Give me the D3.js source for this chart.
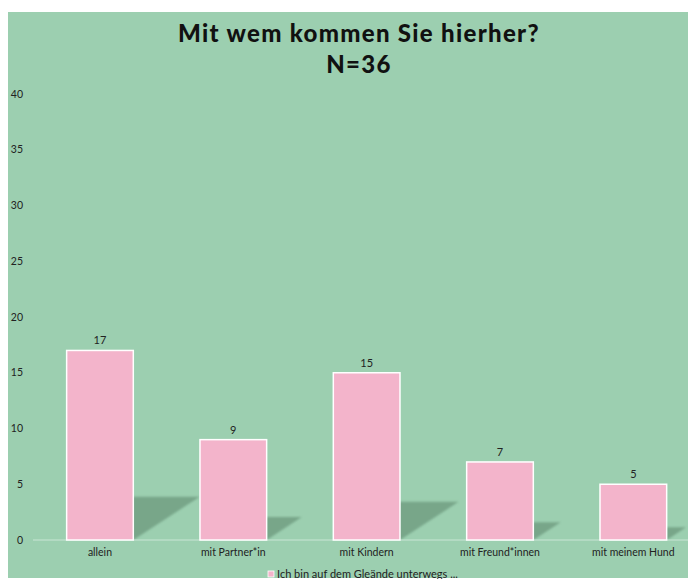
<!DOCTYPE html>
<html><head><meta charset="utf-8">
<script src="https://cdn.jsdelivr.net/npm/d3@7"></script>
<style>body{margin:0;background:#fff;} svg{display:block;}</style>
</head><body>
<svg id="c" width="688" height="579"></svg>
<script>
const categories = ["allein", "mit Partner*in", "mit Kindern", "mit Freund*innen", "mit meinem Hund"];
const values = [17, 9, 15, 7, 5];
const yTicks = [0, 5, 10, 15, 20, 25, 30, 35, 40];
const seriesName = "Ich bin auf dem Gleände unterwegs ...";
const title1 = "Mit wem kommen Sie hierher?";
const title2 = "N=36";

const svg = d3.select("#c");
const W = 688, H = 579;
const font = "Lato, 'Open Sans', sans-serif";

svg.append("rect").attr("x", 8).attr("y", 12).attr("width", W - 8).attr("height", 566).attr("fill", "#9ccfb0");

const x = d3.scaleBand().domain(categories).range([33.3, 700]).paddingInner(0.5).paddingOuter(0.25);
const y = d3.scaleLinear().domain([0, 40]).range([540, 94]);

const defs = svg.append("defs");
const f = defs.append("filter").attr("id", "blur").attr("x", "-20%").attr("y", "-20%").attr("width", "140%").attr("height", "140%");
f.append("feGaussianBlur").attr("stdDeviation", 1.2);
const clip = defs.append("clipPath").attr("id", "clipR");
clip.append("rect").attr("x", 8).attr("y", 12).attr("width", W - 8).attr("height", 528);

// y axis labels
svg.append("g").selectAll("text").data(yTicks).join("text")
  .attr("x", 23).attr("y", d => y(d)).attr("dy", "0.35em")
  .attr("text-anchor", "end").attr("font-family", font).attr("font-size", 10.5).attr("fill", "#222")
  .text(d => d);

// shadows
const k1 = 0.35, k2 = 0.228;
svg.append("g").attr("clip-path", "url(#clipR)").selectAll("path").data(values).join("path")
  .attr("d", (d, i) => {
    const x0 = x(categories[i]), x1 = x0 + x.bandwidth();
    const h = y(0) - y(d);
    const b = y(0);
    return `M${x0},${b}L${x1},${b}L${x1 + k1 * h},${b - k2 * h}L${x0 + k1 * h},${b - k2 * h}Z`;
  })
  .attr("fill", "#6f9c80").attr("opacity", 0.8).attr("filter", "url(#blur)");

// axis line
svg.append("line").attr("x1", 33).attr("x2", W).attr("y1", y(0)).attr("y2", y(0))
  .attr("stroke", "#c9e6d5").attr("stroke-width", 1);

// bars
svg.append("g").selectAll("rect").data(values).join("rect")
  .attr("x", (d, i) => x(categories[i]))
  .attr("y", d => y(d))
  .attr("width", x.bandwidth())
  .attr("height", d => y(0) - y(d))
  .attr("fill", "#f3b4cb").attr("stroke", "#ffffff").attr("stroke-width", 1.5);

// value labels
svg.append("g").selectAll("text").data(values).join("text")
  .attr("x", (d, i) => x(categories[i]) + x.bandwidth() / 2)
  .attr("y", d => y(d) - 10).attr("dy", "0.35em")
  .attr("text-anchor", "middle").attr("font-family", font).attr("font-size", 11).attr("fill", "#222")
  .text(d => d);

// category labels
svg.append("g").selectAll("text").data(categories).join("text")
  .attr("x", d => x(d) + x.bandwidth() / 2)
  .attr("y", 552).attr("dy", "0.35em")
  .attr("text-anchor", "middle").attr("font-family", font).attr("font-size", 10.5).attr("fill", "#222")
  .text(d => d);

// legend
const lg = svg.append("g");
lg.append("rect").attr("x", 268).attr("y", 571).attr("width", 6).attr("height", 6).attr("fill", "#f3b4cb").attr("stroke", "#fff").attr("stroke-width", 0.8);
lg.append("text").attr("x", 277).attr("y", 574.5).attr("dy", "0.35em")
  .attr("font-family", font).attr("font-size", 11).attr("fill", "#222").text(seriesName);

// titles
svg.append("text").attr("x", 359).attr("y", 42).attr("text-anchor", "middle")
  .attr("font-family", font).attr("font-weight", 900).attr("font-size", 24).attr("letter-spacing", 1.3).attr("fill", "#111").text(title1);
svg.append("text").attr("x", 359).attr("y", 73).attr("text-anchor", "middle")
  .attr("font-family", font).attr("font-weight", 900).attr("font-size", 24).attr("letter-spacing", 1.3).attr("fill", "#111").text(title2);
</script>
</body></html>
